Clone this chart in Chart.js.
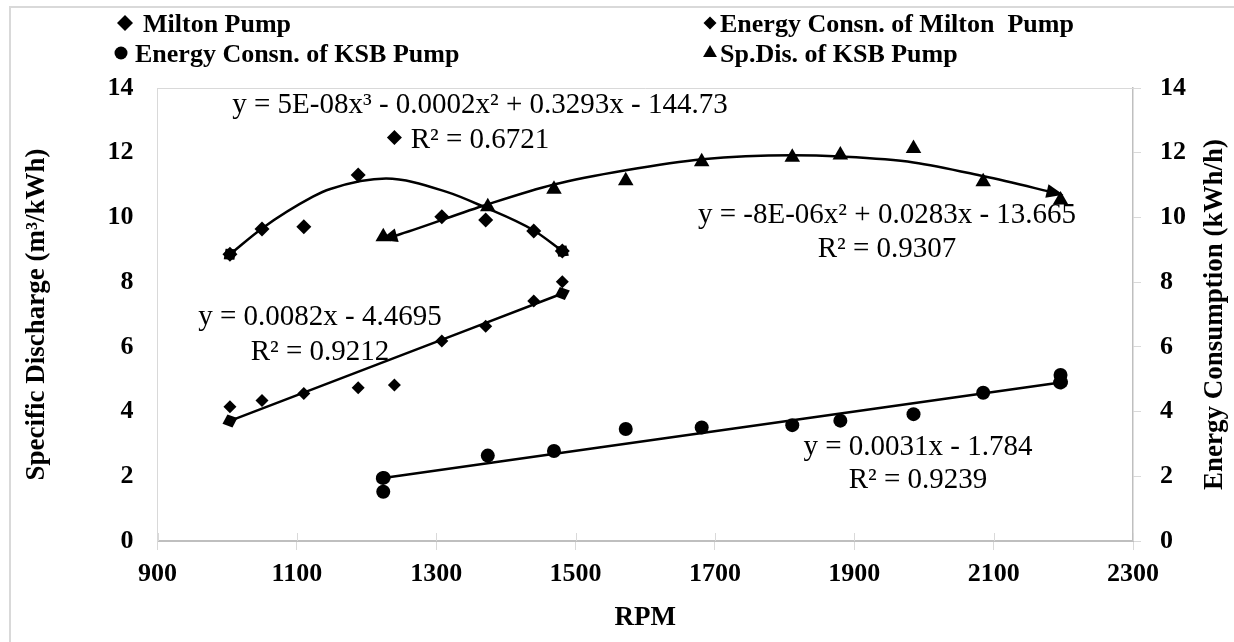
<!DOCTYPE html>
<html lang="en">
<head>
    <meta charset="UTF-8">
    <title>Specific Discharge and Energy Consumption vs RPM</title>
    <script src="https://cdn.jsdelivr.net/npm/chart.js@4.4.1/dist/chart.umd.min.js"></script>
    <style>
        html, body {
            margin: 0;
            padding: 0;
            background-color: #fff;
        }
        .frame {
            position: absolute;
            left: 9px;
            top: 6px;
            width: 1400px;
            height: 800px;
            border: 2px solid #d9d9d9;
            box-sizing: border-box;
        }
        #chart {
            position: absolute;
            left: 0;
            top: 0;
        }
    </style>
</head>
<body>
    <div class="frame"></div>
    <canvas id="chart" width="1234" height="642"></canvas>

    <script>
        // values
        const xTicks = [900, 1100, 1300, 1500, 1700, 1900, 2100, 2300];
        const yTicks = [0, 2, 4, 6, 8, 10, 12, 14];

        const miltonRpm = [1004, 1050, 1110, 1188, 1240, 1308, 1371, 1440, 1481];
        const miltonSpDis = [8.86, 9.64, 9.71, 11.31, 12.47, 10.02, 9.92, 9.58, 8.96];
        const miltonEnergy = [4.15, 4.34, 4.56, 4.74, 4.82, 6.18, 6.64, 7.42, 8.01];

        const ksbRpm = [1224, 1374, 1469, 1572, 1681, 1811, 1880, 1985, 2085, 2196];
        const ksbSpDis = [9.40, 10.33, 10.87, 11.13, 11.72, 11.86, 11.93, 12.13, 11.10, 10.54];
        const ksbEnergy = [1.52, 2.64, 2.78, 3.46, 3.51, 3.58, 3.72, 3.92, 4.58, 5.13];

        // trendlines
        const miltonTrendRpm = [1004, 1050, 1123, 1148, 1228, 1315, 1368, 1439, 1481];
        const miltonTrendSpDis = [8.86, 9.66, 10.64, 10.88, 11.20, 10.79, 10.33, 9.61, 8.96];
        const ksbTrendRpm = [1224, 1248, 1373, 1469, 1572, 1682, 1811, 1880, 1985, 2086, 2196];
        const ksbTrendSpDis = [9.33, 9.48, 10.40, 11.02, 11.46, 11.80, 11.92, 11.88, 11.70, 11.27, 10.72];
        const miltonEnergyTrendRpm = [1004, 1481];
        const miltonEnergyTrend = [3.71, 7.65];
        const ksbEnergyTrendRpm = [1224, 2196];
        const ksbEnergyTrend = [1.95, 4.90];

        const SERIF = "'Liberation Serif', 'Times New Roman', serif";

        function pts(xs, ys) {
            return xs.map((x, i) => ({ x: x, y: ys[i] }));
        }

        function markers(label, xs, ys, style, radius, axis) {
            return {
                label: label,
                data: pts(xs, ys),
                yAxisID: axis,
                showLine: false,
                pointStyle: style,
                pointRadius: radius,
                pointBackgroundColor: '#000',
                pointBorderColor: '#000',
                pointBorderWidth: 0
            };
        }

        function trend(xs, ys, axis, endMark) {
            return {
                label: 'trend',
                data: pts(xs, ys),
                yAxisID: axis,
                showLine: true,
                pointRadius: 0,
                borderColor: '#000',
                borderWidth: 2.5,
                cubicInterpolationMode: 'monotone',
                endMark: endMark
            };
        }

        // legend + equation texts (pixel layout)
        const legendItems = [
            { text: 'Milton Pump', style: 'rectRot', r: 8, mx: 125, tx: 143, y: 32 },
            { text: 'Energy Consn. of KSB Pump', style: 'circle', r: 6.5, mx: 121, tx: 135, y: 62 },
            { text: 'Energy Consn. of Milton  Pump', style: 'rectRot', r: 6.5, mx: 710, tx: 720, y: 32 },
            { text: 'Sp.Dis. of KSB Pump', style: 'triangle', r: 8, mx: 710, tx: 720, y: 62 }
        ];
        const eqTexts = [
            { text: 'y = 5E-08x³ - 0.0002x² + 0.3293x - 144.73', x: 480, y: 113 },
            { text: 'R² = 0.6721', x: 480, y: 148 },
            { text: 'y = -8E-06x² + 0.0283x - 13.665', x: 887, y: 223 },
            { text: 'R² = 0.9307', x: 887, y: 257 },
            { text: 'y = 0.0082x - 4.4695', x: 320, y: 325 },
            { text: 'R² = 0.9212', x: 320, y: 360 },
            { text: 'y = 0.0031x - 1.784', x: 918, y: 455 },
            { text: 'R² = 0.9239', x: 918, y: 488 }
        ];

        const decor = {
            id: 'decor',
            beforeDatasetsDraw(chart) {
                const ctx = chart.ctx;
                const a = chart.chartArea;
                ctx.save();
                ctx.strokeStyle = '#d9d9d9';
                ctx.lineWidth = 1;
                ctx.beginPath();
                ctx.moveTo(a.left, a.top + 0.5);
                ctx.lineTo(a.right, a.top + 0.5);
                // cross tick marks on the x axis
                chart.scales.x.ticks.forEach(t => {
                    const px = Math.round(chart.scales.x.getPixelForValue(t.value)) + 0.5;
                    ctx.moveTo(px, a.bottom - 8);
                    ctx.lineTo(px, a.bottom);
                });
                ctx.stroke();
                ctx.restore();
            },
            afterDatasetsDraw(chart) {
                const ctx = chart.ctx;
                chart.data.datasets.forEach((ds, i) => {
                    if (!ds.endMark) return;
                    const els = chart.getDatasetMeta(i).data;
                    const n = els.length;
                    [[els[0], els[1]], [els[n - 1], els[n - 2]]].forEach(pair => {
                        const p = pair[0], q = pair[1];
                        const ang = Math.atan2(p.y - q.y, p.x - q.x);
                        ctx.save();
                        ctx.translate(p.x, p.y);
                        ctx.rotate(ang);
                        ctx.fillStyle = '#000';
                        ctx.beginPath();
                        if (ds.endMark === 'arrow') {
                            ctx.moveTo(3, 0);
                            ctx.lineTo(-14, -7);
                            ctx.lineTo(-14, 7);
                        } else if (ds.endMark === 'oval') {
                            ctx.ellipse(0, 0, 7.5, 7, 0, 0, Math.PI * 2);
                        } else {
                            ctx.moveTo(8, 0);
                            ctx.lineTo(0, -7);
                            ctx.lineTo(-8, 0);
                            ctx.lineTo(0, 7);
                        }
                        ctx.closePath();
                        ctx.fill();
                        ctx.restore();
                    });
                });
            },
            afterDraw(chart) {
                const ctx = chart.ctx;
                ctx.save();
                ctx.fillStyle = '#000';
                ctx.textBaseline = 'alphabetic';

                // legend
                ctx.font = 'bold 26px ' + SERIF;
                ctx.textAlign = 'left';
                legendItems.forEach(it => {
                    Chart.helpers.drawPoint(ctx, { pointStyle: it.style, radius: it.r, rotation: 0, borderWidth: 0 }, it.mx, it.y - 9);
                    ctx.fillText(it.text, it.tx, it.y);
                });

                // trendline equations
                ctx.font = '29px ' + SERIF;
                ctx.textAlign = 'center';
                eqTexts.forEach(t => ctx.fillText(t.text, t.x, t.y));

                // right axis title (reads bottom to top)
                const a = chart.chartArea;
                ctx.font = 'bold 27px ' + SERIF;
                ctx.textBaseline = 'middle';
                ctx.translate(1215, (a.top + a.bottom) / 2);
                ctx.rotate(-Math.PI / 2);
                ctx.fillText('Energy Consumption (kWh/h)', 0, 0);
                ctx.restore();
            }
        };

        const tickFont = { family: SERIF, size: 26, weight: 'bold' };
        const titleFont = { family: SERIF, size: 27, weight: 'bold' };
        const plain = v => String(v);

        new Chart(document.getElementById('chart'), {
            type: 'scatter',
            data: {
                datasets: [
                    markers('Milton Pump', miltonRpm, miltonSpDis, 'rectRot', 7.5, 'y'),
                    markers('Energy Consn. of Milton  Pump', miltonRpm, miltonEnergy, 'rectRot', 6.5, 'y1'),
                    markers('Energy Consn. of KSB Pump', ksbRpm, ksbEnergy, 'circle', 7, 'y1'),
                    markers('Sp.Dis. of KSB Pump', ksbRpm, ksbSpDis, 'triangle', 9, 'y'),
                    trend(miltonTrendRpm, miltonTrendSpDis, 'y', 'diamond'),
                    trend(ksbTrendRpm, ksbTrendSpDis, 'y', 'arrow'),
                    trend(miltonEnergyTrendRpm, miltonEnergyTrend, 'y1', 'diamond'),
                    trend(ksbEnergyTrendRpm, ksbEnergyTrend, 'y1', 'oval')
                ]
            },
            options: {
                responsive: false,
                animation: false,
                events: [],
                layout: { padding: { top: 88, left: 0, right: 0, bottom: 0 } },
                plugins: {
                    legend: { display: false },
                    tooltip: { enabled: false }
                },
                scales: {
                    x: {
                        type: 'linear',
                        min: 900,
                        max: 2300,
                        afterBuildTicks: s => { s.ticks = xTicks.map(v => ({ value: v })); },
                        afterFit: s => { s.height = 101; },
                        grid: { drawOnChartArea: false, color: '#d9d9d9', tickLength: 9 },
                        border: { color: '#bfbfbf', width: 2 },
                        ticks: { color: '#000', font: tickFont, padding: 9, maxRotation: 0, autoSkip: false, callback: plain },
                        title: {
                            display: true,
                            text: 'RPM',
                            color: '#000',
                            font: titleFont,
                            padding: { top: 0, bottom: 8 }
                        }
                    },
                    y: {
                        position: 'left',
                        min: 0,
                        max: 14,
                        afterBuildTicks: s => { s.ticks = yTicks.map(v => ({ value: v })); },
                        afterFit: s => { s.width = 157.5; },
                        grid: { drawOnChartArea: false, drawTicks: false },
                        border: { color: '#d9d9d9', width: 1 },
                        ticks: { color: '#000', font: tickFont, padding: 24, callback: plain },
                        title: {
                            display: true,
                            text: 'Specific Discharge (m³/kWh)',
                            color: '#000',
                            font: titleFont,
                            padding: { top: 21, bottom: 0 }
                        }
                    },
                    y1: {
                        position: 'right',
                        min: 0,
                        max: 14,
                        afterBuildTicks: s => { s.ticks = yTicks.map(v => ({ value: v })); },
                        afterFit: s => { s.width = 101; },
                        grid: { drawOnChartArea: false, color: '#d9d9d9', tickLength: 8 },
                        border: { color: '#bfbfbf', width: 1.5 },
                        ticks: { color: '#000', font: tickFont, padding: 19, callback: plain }
                    }
                }
            },
            plugins: [decor]
        });
    </script>
</body>
</html>
